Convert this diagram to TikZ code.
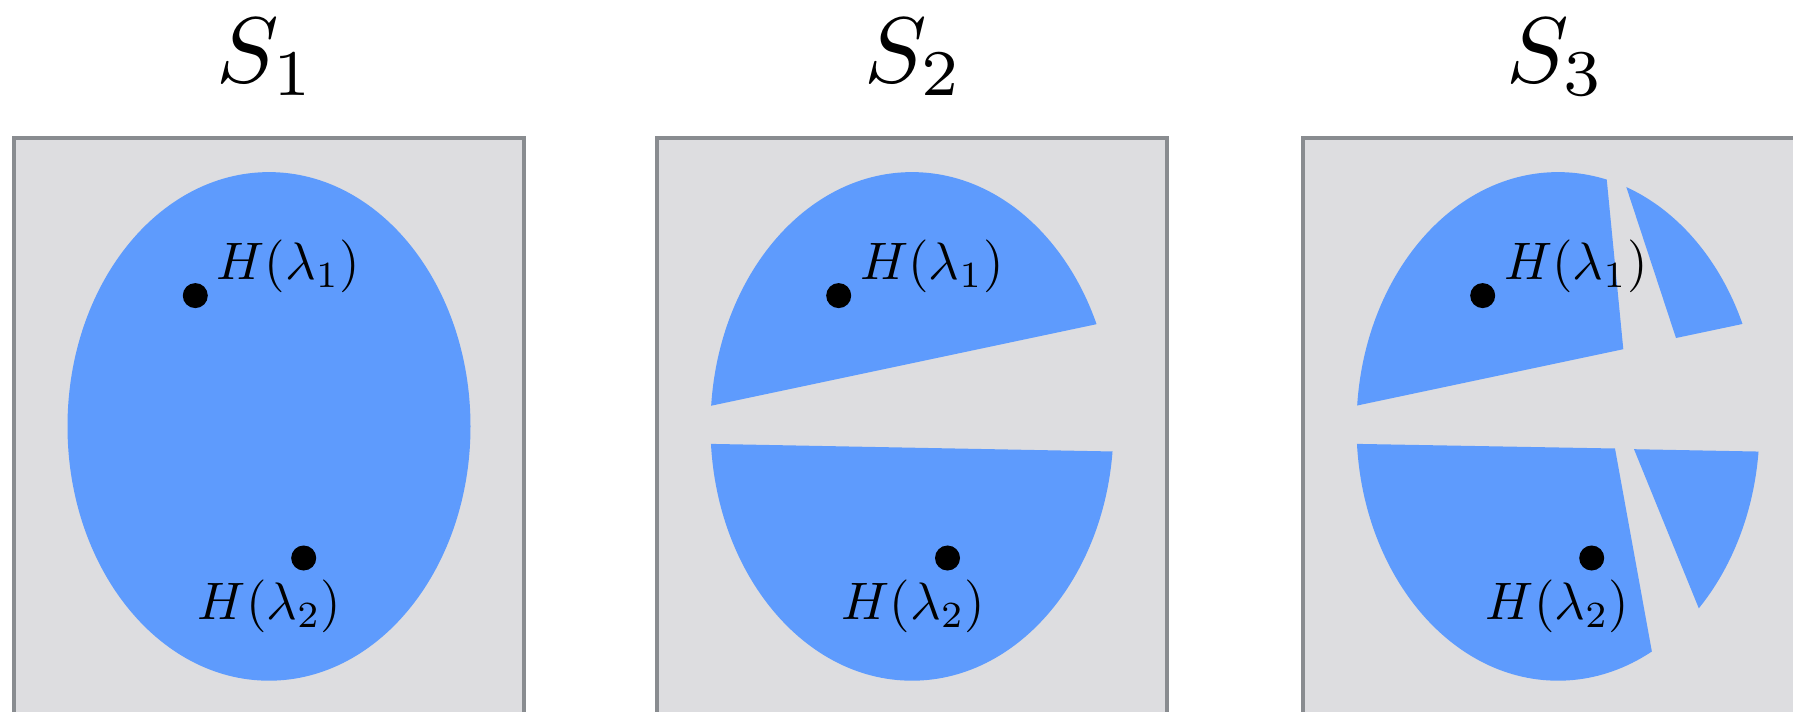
\documentclass[tikz,border=0pt]{standalone}
\usepackage{graphicx}
\usetikzlibrary{positioning}
\definecolor{panelgray}{RGB}{221,221,224}
\definecolor{framegray}{RGB}{137,140,144}
\definecolor{setblue}{RGB}{94,155,253}
\begin{document}
\begin{tikzpicture}
  [x=0.01cm,y=-0.01cm,
   panel/.style={fill=panelgray,draw=framegray,line width=1.3pt},
   blob/.style={fill=setblue},
   dot/.style={circle,fill=black,inner sep=0pt,minimum size=0.25cm},
   lab/.style={inner sep=0pt},
   title/.style={inner sep=0pt,anchor=base}]
  \clip (0,0) rectangle (1793,712);

  \foreach \x in {14,657,1303}
    \draw[panel] (\x,138) rectangle ++(510,620);

  \node[title] (s1) at (266,82) {\scalebox{2.65}{$S_1$}};
  \node[title] (s2) at (914,82) {\scalebox{2.65}{$S_2$}};
  \node[title] (s3) at (1556,82) {\scalebox{2.65}{$S_3$}};

  %S_1 entero
  \fill[blob] (269,426.4) ellipse [x radius=201.5, y radius=254.3];

  %S_2 cortado en dos
  \begin{scope}
    \clip (690,130) -- (1130,130) -- (1130,317.1) -- (690,410.2) -- cycle;
    \fill[blob] (912,426.4) ellipse [x radius=201.5, y radius=254.3];
  \end{scope}
  \begin{scope}
    \clip (690,443.5) -- (1130,451.8) -- (1130,720) -- (690,720) -- cycle;
    \fill[blob] (912,426.4) ellipse [x radius=201.5, y radius=254.3];
  \end{scope}

  %S_3 cortado en cuatro
  \foreach \cut in {
      {(1335,130) -- (1601.9,130) -- (1623.3,349.2) -- (1335,410.2) -- cycle},
      {(1607.5,130) -- (1793,130) -- (1793,313.3) -- (1676,338) -- cycle},
      {(1335,443.5) -- (1615,448.5) -- (1664.3,720) -- (1335,720) -- cycle},
      {(1634,449.2) -- (1793,452.2) -- (1793,720) -- (1744.3,720) -- cycle}}
  {
    \begin{scope}
      \clip \cut;
      \fill[blob] (1558,426.4) ellipse [x radius=201.5, y radius=254.3];
    \end{scope}
  }

  \foreach \i/\ax/\ay/\bx/\by in {1/195.3/295.6/303.7/558, 2/838.7/295.6/947.5/558, 3/1482.7/295.6/1591.7/558}
  {
    \node[dot] (a\i) at (\ax,\ay) {};
    \node[dot] (b\i) at (\bx,\by) {};
    \node[lab, right=0.075cm of a\i, yshift=0.293cm] (la\i) {\scalebox{1.5}{$H(\lambda_1)$}};
    \node[lab, below=0.08cm of b\i, xshift=-0.34cm] (lb\i) {\scalebox{1.5}{$H(\lambda_2)$}};
  }
\end{tikzpicture}
\end{document}
